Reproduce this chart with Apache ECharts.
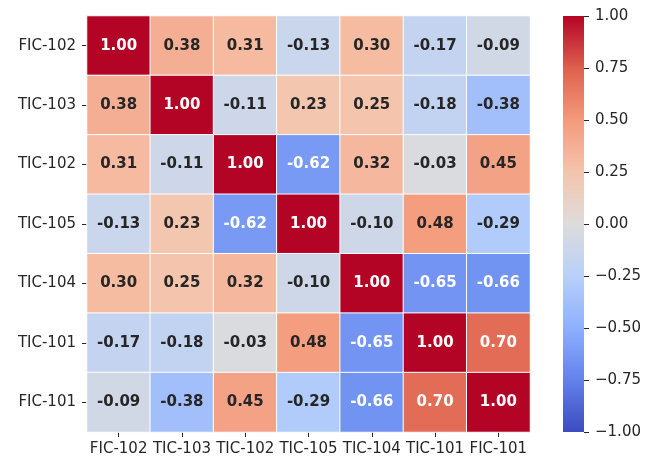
<!DOCTYPE html>
<html>
<head>
<meta charset="utf-8">
<script src="https://cdn.jsdelivr.net/npm/echarts@6/dist/echarts.min.js"></script>
<style>
html, body { margin: 0; padding: 0; background: #fff; }
#main { width: 657px; height: 461px; }
</style>
</head>
<body>
<div id="main"></div>
<script>
var tags = ['FIC-102', 'TIC-103', 'TIC-102', 'TIC-105', 'TIC-104', 'TIC-101', 'FIC-101'];
// correlation rows, same order as tags
var rowFIC102 = [1.00, 0.38, 0.31, -0.13, 0.30, -0.17, -0.09];
var rowTIC103 = [0.38, 1.00, -0.11, 0.23, 0.25, -0.18, -0.38];
var rowTIC102 = [0.31, -0.11, 1.00, -0.62, 0.32, -0.03, 0.45];
var rowTIC105 = [-0.13, 0.23, -0.62, 1.00, -0.10, 0.48, -0.29];
var rowTIC104 = [0.30, 0.25, 0.32, -0.10, 1.00, -0.65, -0.66];
var rowTIC101 = [-0.17, -0.18, -0.03, 0.48, -0.65, 1.00, 0.70];
var rowFIC101 = [-0.09, -0.38, 0.45, -0.29, -0.66, 0.70, 1.00];

var rows = [rowFIC102, rowTIC103, rowTIC102, rowTIC105, rowTIC104, rowTIC101, rowFIC101];
var cells = [];
for (var r = 0; r < rows.length; r++) {
	for (var c = 0; c < rows[r].length; c++) {
		cells.push([c, r, rows[r][c]]);
	}
}

// coolwarm
var coolwarm = ['#3b4cc0', '#6282ea', '#8db0fe', '#b8d0f9', '#dddcdc', '#f5c4ac', '#f49a7b', '#de604d', '#b40426'];
var txt = '#262626';
var fontFam = '"DejaVu Sans", sans-serif';
var fs = 15;

// colorbar gradient, bottom (-1) to top (+1)
var stops = coolwarm.map(function (c, i) {
	return {offset: i / (coolwarm.length - 1), color: c};
});

var myChart = echarts.init(document.getElementById('main'));
var option = {
	backgroundColor: '#fff',
	animation: false,
	grid: [
		{left: 87, top: 16, width: 443, height: 416},
		{left: 563, top: 16, width: 21, height: 416}
	],
	graphic: [{
		type: 'rect',
		left: 563,
		top: 16,
		shape: {width: 21, height: 416},
		style: {fill: new echarts.graphic.LinearGradient(0, 1, 0, 0, stops)},
		silent: true
	}],
	xAxis: [{
		type: 'category',
		gridIndex: 0,
		data: tags,
		position: 'bottom',
		axisLine: {show: false},
		axisTick: {show: true, alignWithLabel: true, length: 5, lineStyle: {color: txt}},
		axisLabel: {color: txt, fontSize: fs, fontFamily: fontFam, margin: 10, interval: 0},
		splitLine: {show: false}
	}, {
		type: 'value',
		gridIndex: 1,
		min: 0,
		max: 1,
		show: false
	}],
	yAxis: [{
		type: 'category',
		gridIndex: 0,
		data: tags,
		inverse: true,
		axisLine: {show: false},
		axisTick: {show: true, alignWithLabel: true, length: 5, lineStyle: {color: txt}},
		axisLabel: {color: txt, fontSize: fs, fontFamily: fontFam, margin: 11, interval: 0},
		splitLine: {show: false}
	}, {
		type: 'value',
		gridIndex: 1,
		position: 'right',
		min: -1,
		max: 1,
		interval: 0.25,
		axisLine: {show: false, onZero: false},
		axisTick: {show: true, length: 5, lineStyle: {color: txt}},
		axisLabel: {
			color: txt, fontSize: fs, fontFamily: fontFam, margin: 11,
			formatter: function (v) {
				var s = Math.abs(v).toFixed(2);
				return v < 0 ? '\u2212' + s : s;
			}
		},
		splitLine: {show: false}
	}],
	visualMap: {
		type: 'continuous',
		show: false,
		seriesIndex: 0,
		min: -1,
		max: 1,
		inRange: {color: coolwarm}
	},
	series: [{
		type: 'heatmap',
		xAxisIndex: 0,
		yAxisIndex: 0,
		data: cells,
		itemStyle: {borderColor: '#fff', borderWidth: 1},
		label: {
			show: true,
			fontFamily: fontFam,
			formatter: function (p) {
				var v = p.value[2];
				var s = v.toFixed(2);
				return Math.abs(v) > 0.6 ? '{w|' + s + '}' : '{d|' + s + '}';
			},
			rich: {
				w: {color: '#fff', fontWeight: 'bold', fontSize: fs, fontFamily: fontFam},
				d: {color: txt, fontWeight: 'bold', fontSize: fs, fontFamily: fontFam}
			}
		},
		emphasis: {disabled: true}
	}]
};
myChart.setOption(option);
</script>
</body>
</html>
